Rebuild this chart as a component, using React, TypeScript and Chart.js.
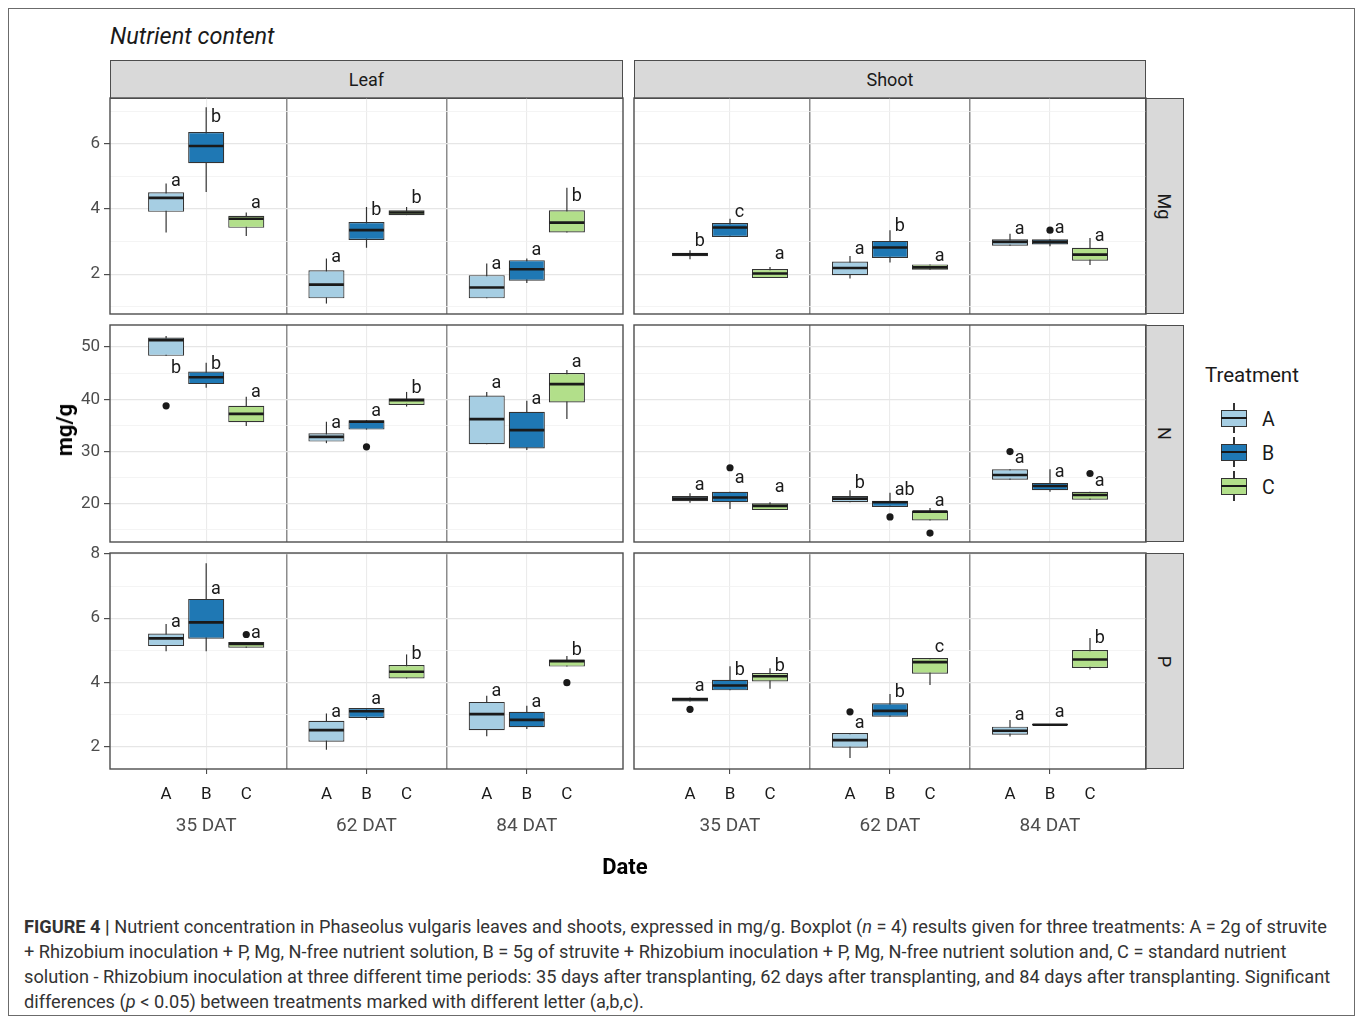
import React, { useEffect, useRef } from 'react';
import { Chart, registerables } from 'chart.js';

Chart.register(...registerables);

// ---------- categories ----------
const ORGANS = ['Leaf', 'Shoot'];
const ELEMENTS = ['Mg', 'N', 'P'];
const DATES = ['35 DAT', '62 DAT', '84 DAT'];
const TREATMENTS = ['A', 'B', 'C'];
const TREATMENT_COLORS = ['#a6cee3', '#1f78b4', '#b2df8a'];

// Box order in every panel: A35, B35, C35, A62, B62, C62, A84, B84, C84
// ---------- Leaf / Mg ----------
const leafMgLow = [3.28, 4.52, 3.17, 1.1, 2.81, 3.81, 1.26, 1.73, 3.28];
const leafMgQ1 = [3.91, 5.4, 3.42, 1.26, 3.05, 3.81, 1.26, 1.8, 3.28];
const leafMgMed = [4.34, 5.93, 3.7, 1.68, 3.35, 3.89, 1.59, 2.15, 3.58];
const leafMgQ3 = [4.51, 6.36, 3.79, 2.12, 3.6, 3.96, 1.97, 2.43, 3.96];
const leafMgHigh = [4.78, 7.12, 3.89, 2.48, 4.06, 4.06, 2.33, 2.48, 4.65];
const leafMgLetters = ['a', 'b', 'a', 'a', 'b', 'b', 'a', 'a', 'b'];
const leafMgLetterY = [4.85, 6.8, 4.16, 2.5, 3.96, 4.32, 2.3, 2.73, 4.37];
const leafMgOutliers: [number, number][] = [];

// ---------- Shoot / Mg ----------
const shootMgLow = [2.46, 3.14, 1.88, 1.87, 2.36, 2.14, 2.87, 2.86, 2.28];
const shootMgQ1 = [2.55, 3.14, 1.88, 1.97, 2.5, 2.14, 2.87, 2.91, 2.41];
const shootMgMed = [2.61, 3.43, 2.02, 2.19, 2.82, 2.21, 2.99, 2.99, 2.6];
const shootMgQ3 = [2.66, 3.57, 2.16, 2.39, 3.02, 2.3, 3.07, 3.07, 2.81];
const shootMgHigh = [2.73, 3.7, 2.22, 2.56, 3.35, 2.3, 3.24, 3.07, 3.11];
const shootMgLetters = ['b', 'c', 'a', 'a', 'b', 'a', 'a', 'a', 'a'];
const shootMgLetterY = [2.99, 3.89, 2.61, 2.77, 3.47, 2.55, 3.38, 3.4, 3.14];
const shootMgOutliers: [number, number][] = [[7, 3.35]];

// ---------- Leaf / N ----------
const leafNLow = [48.3, 42.2, 34.9, 31.6, 34.2, 38.6, 31.4, 30.3, 36.2];
const leafNQ1 = [48.3, 42.9, 35.6, 31.9, 34.2, 38.9, 31.4, 30.6, 39.4];
const leafNMed = [51.3, 44.2, 37.2, 32.8, 35.7, 39.8, 36.2, 34.1, 42.9];
const leafNQ3 = [51.8, 45.3, 38.75, 33.5, 36.0, 40.2, 40.7, 37.6, 45.0];
const leafNHigh = [52.1, 47.0, 40.5, 35.7, 36.0, 41.4, 41.4, 39.7, 45.6];
const leafNLetters = ['b', 'b', 'a', 'a', 'a', 'b', 'a', 'a', 'a'];
const leafNLetterY = [45.9, 46.7, 41.3, 35.4, 37.6, 42.1, 43.1, 40.0, 47.1];
const leafNOutliers: [number, number][] = [[0, 38.75], [4, 30.9]];

// ---------- Shoot / N ----------
const shootNLow = [20.2, 19.0, 18.8, 20.3, 19.4, 16.8, 24.6, 22.3, 20.8];
const shootNQ1 = [20.5, 20.3, 18.8, 20.3, 19.4, 16.8, 24.6, 22.6, 20.8];
const shootNMed = [21.0, 21.2, 19.6, 21.0, 20.3, 18.5, 25.5, 23.4, 21.7];
const shootNQ3 = [21.5, 22.3, 20.1, 21.5, 20.6, 18.7, 26.6, 24.0, 22.3];
const shootNHigh = [22.0, 22.3, 20.3, 22.6, 22.1, 19.2, 26.6, 26.6, 22.3];
const shootNLetters = ['a', 'a', 'a', 'b', 'ab', 'a', 'a', 'a', 'a'];
const shootNLetterY = [23.6, 24.8, 23.2, 23.8, 22.6, 20.5, 28.7, 26.0, 24.2];
const shootNOutliers: [number, number][] = [[1, 26.9], [4, 17.5], [5, 14.4], [6, 30.0], [8, 25.8]];

// ---------- Leaf / P ----------
const leafPLow = [4.97, 4.97, 5.08, 1.9, 2.83, 4.12, 2.32, 2.55, 4.49];
const leafPQ1 = [5.13, 5.36, 5.08, 2.15, 2.89, 4.12, 2.51, 2.6, 4.49];
const leafPMed = [5.37, 5.87, 5.2, 2.51, 3.1, 4.33, 3.01, 2.83, 4.66];
const leafPQ3 = [5.52, 6.6, 5.26, 2.8, 3.2, 4.54, 3.39, 3.08, 4.71];
const leafPHigh = [5.82, 7.71, 5.26, 3.03, 3.2, 4.87, 3.58, 3.27, 4.82];
const leafPLetters = ['a', 'a', 'a', 'a', 'a', 'b', 'a', 'a', 'b'];
const leafPLetterY = [5.85, 6.88, 5.52, 3.06, 3.45, 4.87, 3.71, 3.37, 5.0];
const leafPOutliers: [number, number][] = [[2, 5.49], [8, 3.99]];

// ---------- Shoot / P ----------
const shootPLow = [3.4, 3.75, 3.8, 1.64, 2.93, 3.92, 2.31, 2.66, 4.4];
const shootPQ1 = [3.4, 3.75, 4.03, 1.96, 2.93, 4.27, 2.37, 2.66, 4.45];
const shootPMed = [3.47, 3.9, 4.19, 2.2, 3.11, 4.63, 2.49, 2.68, 4.71];
const shootPQ3 = [3.53, 4.08, 4.29, 2.42, 3.35, 4.76, 2.62, 2.7, 5.01];
const shootPHigh = [3.53, 4.5, 4.44, 2.42, 3.64, 4.76, 2.83, 2.7, 5.38];
const shootPLetters = ['a', 'b', 'b', 'a', 'b', 'c', 'a', 'a', 'b'];
const shootPLetterY = [3.86, 4.37, 4.5, 2.73, 3.67, 5.09, 2.97, 3.06, 5.38];
const shootPOutliers: [number, number][] = [[0, 3.16], [3, 3.08]];

// ---------- y axes (per element row) ----------
const mgMajorTicks = [2, 4, 6];
const mgMinorTicks = [1, 3, 5, 7];
const mgRange = [0.78, 7.4];
const nMajorTicks = [20, 30, 40, 50];
const nMinorTicks = [15, 25, 35, 45];
const nRange = [12.7, 54.2];
const pMajorTicks = [2, 4, 6, 8];
const pMinorTicks = [3, 5, 7];
const pRange = [1.3, 8.03];

// ---------- derived structures ----------
type PanelData = {
  low: number[]; q1: number[]; med: number[]; q3: number[]; high: number[];
  letters: string[]; letterY: number[]; outliers: [number, number][];
};
const PANELS: PanelData[][] = [
  [
    { low: leafMgLow, q1: leafMgQ1, med: leafMgMed, q3: leafMgQ3, high: leafMgHigh, letters: leafMgLetters, letterY: leafMgLetterY, outliers: leafMgOutliers },
    { low: shootMgLow, q1: shootMgQ1, med: shootMgMed, q3: shootMgQ3, high: shootMgHigh, letters: shootMgLetters, letterY: shootMgLetterY, outliers: shootMgOutliers },
  ],
  [
    { low: leafNLow, q1: leafNQ1, med: leafNMed, q3: leafNQ3, high: leafNHigh, letters: leafNLetters, letterY: leafNLetterY, outliers: leafNOutliers },
    { low: shootNLow, q1: shootNQ1, med: shootNMed, q3: shootNQ3, high: shootNHigh, letters: shootNLetters, letterY: shootNLetterY, outliers: shootNOutliers },
  ],
  [
    { low: leafPLow, q1: leafPQ1, med: leafPMed, q3: leafPQ3, high: leafPHigh, letters: leafPLetters, letterY: leafPLetterY, outliers: leafPOutliers },
    { low: shootPLow, q1: shootPQ1, med: shootPMed, q3: shootPQ3, high: shootPHigh, letters: shootPLetters, letterY: shootPLetterY, outliers: shootPOutliers },
  ],
];
const ROW_AXES = [
  { major: mgMajorTicks, minor: mgMinorTicks, range: mgRange },
  { major: nMajorTicks, minor: nMinorTicks, range: nRange },
  { major: pMajorTicks, minor: pMinorTicks, range: pRange },
];

// x positions: dates at 1,2,3 ; treatments dodged by DODGE
const DODGE = 0.25;
const X_MIN = 0.4;
const X_MAX = 3.6;
const BOX_X: number[] = [];
const BOX_T: number[] = [];
DATES.forEach((_, d) => TREATMENTS.forEach((_, t) => { BOX_X.push(d + 1 + (t - 1) * DODGE); BOX_T.push(t); }));
const DATE_X = DATES.map((_, d) => d + 1);
const DIVIDER_X = [1.5, 2.5];
const X_TICKS = [...BOX_X, ...DIVIDER_X].sort((a, b) => a - b);

// ---------- layout ----------
const COL_LEFT = [110, 634];
const COL_W = [513, 512];
const ROW_TOP = [98, 325, 553];
const ROW_H = [216, 217, 216];
const PAD = 18;
const FONT = 'Roboto';

const near = (a: number, b: number) => Math.abs(a - b) < 1e-6;
const isIn = (arr: number[], v: number) => arr.some((a) => near(a, v));

function Panel({ row, col }: { row: number; col: number }) {
  const ref = useRef<HTMLCanvasElement>(null);
  const showY = col === 0;
  const showX = row === 2;
  const YW = showY ? 50 : 0;
  const XH1 = showX ? 36 : 0;
  const XH2 = showX ? 36 : 0;
  const W = YW + COL_W[col] + 2 * PAD;
  const H = ROW_H[row] + 2 * PAD + XH1 + XH2;
  const left = COL_LEFT[col] - YW - PAD;
  const top = ROW_TOP[row] - PAD;

  useEffect(() => {
    const d = PANELS[row][col];
    const ax = ROW_AXES[row];
    const plugin = {
      id: 'boxExtras',
      afterDatasetsDraw(chart: any) {
        const { ctx, scales } = chart;
        const x = scales.x;
        const y = scales.y;
        const unit = x.getPixelForValue(DODGE) - x.getPixelForValue(0);
        const half = unit * 0.45;
        ctx.save();
        ctx.strokeStyle = '#1a1a1a';
        ctx.lineWidth = 2.6;
        d.med.forEach((m, i) => {
          const px = x.getPixelForValue(BOX_X[i]);
          const py = y.getPixelForValue(m);
          ctx.beginPath();
          ctx.moveTo(px - half + 0.6, py);
          ctx.lineTo(px + half - 0.6, py);
          ctx.stroke();
        });
        ctx.fillStyle = '#1a1a1a';
        ctx.font = `18px ${FONT}`;
        ctx.textAlign = 'left';
        ctx.textBaseline = 'middle';
        d.letters.forEach((l, i) => {
          const px = x.getPixelForValue(BOX_X[i] + 0.03);
          const py = y.getPixelForValue(d.letterY[i]);
          ctx.fillText(l, px, py);
        });
        ctx.restore();
      },
      afterDraw(chart: any) {
        const { ctx, chartArea: a } = chart;
        ctx.save();
        ctx.strokeStyle = '#4d4d4d';
        ctx.lineWidth = 1.4;
        ctx.strokeRect(a.left, a.top, a.right - a.left, a.bottom - a.top);
        ctx.restore();
      },
    };

    const scales: any = {
      x: {
        type: 'linear',
        position: 'bottom',
        min: X_MIN,
        max: X_MAX,
        offset: false,
        afterBuildTicks: (s: any) => { s.ticks = X_TICKS.map((v) => ({ value: v })); },
        afterFit: (s: any) => { s.height = XH1; },
        border: { display: false },
        grid: {
          offset: false,
          drawTicks: showX,
          tickLength: 5,
          color: (c: any) => {
            const v = c.tick ? c.tick.value : NaN;
            if (isIn(DIVIDER_X, v)) return '#8c8c8c';
            if (isIn(DATE_X, v)) return '#ebebeb';
            return 'rgba(0,0,0,0)';
          },
          lineWidth: (c: any) => (c.tick && isIn(DIVIDER_X, c.tick.value) ? 1.5 : 1.1),
          tickColor: (c: any) => (c.tick && isIn(DATE_X, c.tick.value) ? '#4d4d4d' : 'rgba(0,0,0,0)'),
        },
        ticks: {
          display: showX,
          autoSkip: false,
          maxRotation: 0,
          padding: 11,
          color: '#1a1a1a',
          font: { family: FONT, size: 17 },
          callback: (v: number) => {
            const i = BOX_X.findIndex((p) => near(p, v));
            return i >= 0 ? TREATMENTS[BOX_T[i]] : '';
          },
        },
      },
      y: {
        type: 'linear',
        position: 'left',
        min: ax.range[0],
        max: ax.range[1],
        beginAtZero: false,
        afterBuildTicks: (s: any) => {
          s.ticks = [...ax.major, ...ax.minor].filter((v) => v >= ax.range[0] && v <= ax.range[1]).sort((a, b) => a - b).map((v) => ({ value: v }));
        },
        afterFit: (s: any) => { s.width = YW; },
        border: { display: false },
        grid: {
          drawTicks: showY,
          tickLength: 6,
          color: (c: any) => (c.tick && isIn(ax.major, c.tick.value) ? '#e6e6e6' : '#f1f1f1'),
          lineWidth: (c: any) => (c.tick && isIn(ax.major, c.tick.value) ? 1.2 : 0.8),
          tickColor: (c: any) => (c.tick && isIn(ax.major, c.tick.value) ? '#4d4d4d' : 'rgba(0,0,0,0)'),
        },
        ticks: {
          display: showY,
          autoSkip: false,
          padding: 4,
          color: '#4d4d4d',
          font: { family: FONT, size: 17 },
          callback: (v: number) => (isIn(ax.major, v) ? String(v) : ''),
        },
      },
    };
    if (showX) {
      scales.x2 = {
        type: 'linear',
        position: 'bottom',
        weight: 1,
        min: X_MIN,
        max: X_MAX,
        offset: false,
        afterBuildTicks: (s: any) => { s.ticks = DATE_X.map((v) => ({ value: v })); },
        afterFit: (s: any) => { s.height = XH2; },
        border: { display: false },
        grid: { display: false, drawTicks: false },
        ticks: {
          autoSkip: false,
          maxRotation: 0,
          padding: 10,
          color: '#4d4d4d',
          font: { family: FONT, size: 19 },
          callback: (v: number) => DATES[Math.round(v) - 1] ?? '',
        },
      };
    }

    const chart = new Chart(ref.current as HTMLCanvasElement, {
      type: 'bar',
      data: {
        datasets: [
          {
            type: 'bar',
            label: 'whisker',
            data: BOX_X.map((xv, i) => ({ x: xv, y: [d.low[i], d.high[i]] })) as any,
            backgroundColor: '#333333',
            borderWidth: 0,
            grouped: false,
            maxBarThickness: 1.2,
            order: 3,
          } as any,
          {
            type: 'bar',
            label: 'box',
            data: BOX_X.map((xv, i) => ({ x: xv, y: [d.q1[i], d.q3[i]] })) as any,
            backgroundColor: BOX_T.map((t) => TREATMENT_COLORS[t]),
            borderColor: '#333333',
            borderWidth: 1.2,
            borderSkipped: false,
            grouped: false,
            barPercentage: 0.9,
            categoryPercentage: 1,
            order: 2,
          } as any,
          {
            type: 'scatter',
            label: 'outlier',
            data: d.outliers.map(([i, v]) => ({ x: BOX_X[i], y: v })),
            backgroundColor: '#1a1a1a',
            borderWidth: 0,
            pointRadius: 3.6,
            order: 1,
          } as any,
        ],
      },
      options: {
        animation: false,
        responsive: false,
        maintainAspectRatio: false,
        devicePixelRatio: 1,
        events: [],
        layout: { padding: PAD },
        plugins: { legend: { display: false }, tooltip: { enabled: false } },
        scales,
      } as any,
      plugins: [plugin as any],
    });
    return () => chart.destroy();
  }, []);

  return (
    <canvas
      ref={ref}
      width={W}
      height={H}
      style={{ position: 'absolute', left, top, width: W, height: H }}
    />
  );
}

const Txt = ({ x, y, children, style, center }: any) => (
  <div
    style={{
      position: 'absolute',
      left: x,
      top: y,
      transform: center ? 'translate(-50%, -50%)' : 'translateY(-50%)',
      whiteSpace: 'nowrap',
      lineHeight: 1,
      ...style,
    }}
  >
    {children}
  </div>
);

export default function App() {
  const stripStyle: React.CSSProperties = {
    position: 'absolute',
    background: '#d9d9d9',
    border: '1.4px solid #4d4d4d',
    boxSizing: 'border-box',
    display: 'flex',
    alignItems: 'center',
    justifyContent: 'center',
    fontFamily: FONT,
    fontSize: 18,
    color: '#1a1a1a',
  };
  const captionStyle: React.CSSProperties = {
    position: 'absolute',
    left: 24,
    fontFamily: FONT,
    fontSize: 18.2,
    color: '#333',
    whiteSpace: 'nowrap',
    lineHeight: '25px',
  };
  return (
    <div style={{ position: 'absolute', left: 0, top: 0, width: 1357, height: 1017, background: '#fff', overflow: 'hidden', fontFamily: FONT }}>
      <div style={{ position: 'absolute', left: 8, top: 8, width: 1347, height: 1008, border: '1.5px solid #6b6b6b', boxSizing: 'border-box' }} />
      <Txt x={110} y={37} style={{ fontSize: 23.5, fontStyle: 'italic', color: '#1a1a1a' }}>Nutrient content</Txt>

      {ORGANS.map((o, c) => (
        <div key={o} style={{ ...stripStyle, left: COL_LEFT[c], top: 60, width: COL_W[c], height: 39 }}>{o}</div>
      ))}
      {ELEMENTS.map((e, r) => (
        <div key={e} style={{ ...stripStyle, left: 1145, top: ROW_TOP[r], width: 39, height: ROW_H[r] }}>
          <span style={{ display: 'inline-block', transform: 'rotate(90deg)' }}>{e}</span>
        </div>
      ))}

      {[0, 1, 2].map((r) => [0, 1].map((c) => <Panel key={`${r}-${c}`} row={r} col={c} />))}

      <Txt x={65} y={430} center style={{ fontSize: 22, fontWeight: 'bold', color: '#000', transform: 'translate(-50%, -50%) rotate(-90deg)' }}>mg/g</Txt>
      <Txt x={625} y={867} center style={{ fontSize: 22, fontWeight: 'bold', color: '#000' }}>Date</Txt>

      <Txt x={1205} y={375} style={{ fontSize: 20.5, color: '#1a1a1a' }}>Treatment</Txt>
      {TREATMENTS.map((t, i) => {
        const cy = 418 + 34 * i;
        return (
          <React.Fragment key={t}>
            <div style={{ position: 'absolute', left: 1233.4, top: cy - 15, width: 1.2, height: 30, background: '#333' }} />
            <div style={{ position: 'absolute', left: 1221, top: cy - 8.5, width: 26, height: 17, background: TREATMENT_COLORS[i], border: '1.2px solid #333', boxSizing: 'border-box' }} />
            <div style={{ position: 'absolute', left: 1221, top: cy - 1.2, width: 26, height: 2.4, background: '#1a1a1a' }} />
            <Txt x={1262} y={cy + 1.5} style={{ fontSize: 19.5, color: '#1a1a1a' }}>{t}</Txt>
          </React.Fragment>
        );
      })}

      <div style={{ ...captionStyle, top: 913.5 }}>
        <b>FIGURE 4 |</b> Nutrient concentration in Phaseolus vulgaris leaves and shoots, expressed in mg/g. Boxplot (<i>n</i> = 4) results given for three treatments: A = 2g of struvite
      </div>
      <div style={{ ...captionStyle, top: 938.5 }}>
        + Rhizobium inoculation + P, Mg, N-free nutrient solution, B = 5g of struvite + Rhizobium inoculation + P, Mg, N-free nutrient solution and, C = standard nutrient
      </div>
      <div style={{ ...captionStyle, top: 963.5 }}>
        solution - Rhizobium inoculation at three different time periods: 35 days after transplanting, 62 days after transplanting, and 84 days after transplanting. Significant
      </div>
      <div style={{ ...captionStyle, top: 988.5 }}>
        differences (<i>p</i> &lt; 0.05) between treatments marked with different letter (a,b,c).
      </div>
    </div>
  );
}
